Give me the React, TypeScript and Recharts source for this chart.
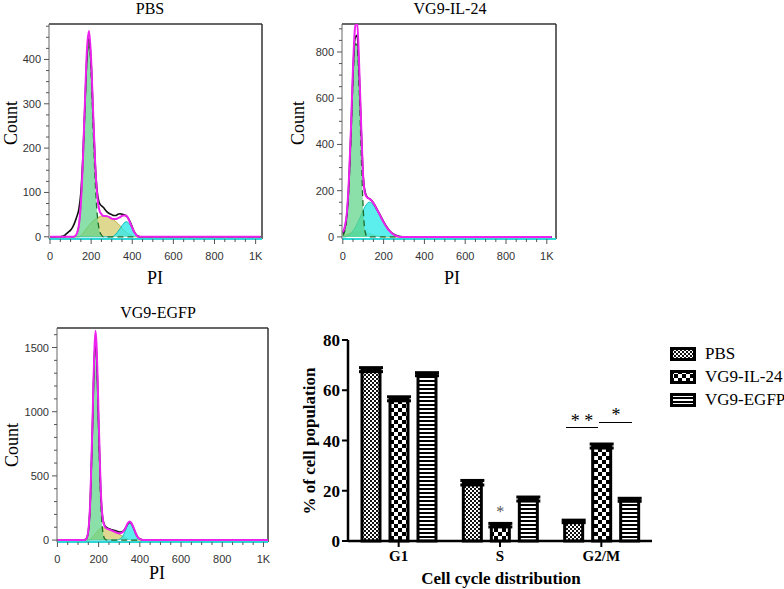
import React from 'react';
import {
  ComposedChart,
  Area,
  Line,
  XAxis,
  YAxis,
  ReferenceLine,
  BarChart,
  Bar,
  ErrorBar,
  LabelList,
} from 'recharts';

// ---- PBS histogram (PI channel) ----
const pbsX = [0, 50, 60, 70, 80, 90, 100, 110, 120, 130, 140, 150, 160, 170, 180, 190, 200, 210, 220, 230, 240, 250, 260, 270, 280, 290, 300, 310, 320, 330, 340, 350, 360, 370, 380, 390, 400, 410, 420, 430, 440, 450, 1024];
const pbsG1 = [0, 0, 0, 0, 0, 0, 0, 0, 1, 7, 25, 73, 165, 293, 406, 438, 368, 240, 122, 48, 15, 4, 0, 0, 0, 0, 0, 0, 0, 0, 0, 0, 0, 0, 0, 0, 0, 0, 0, 0, 0, 0, 0];
const pbsS = [0, 0, 0, 0, 0, 0, 0, 0, 0, 0, 0, 3, 8, 14, 20, 26, 31, 36, 40, 43, 45, 47, 47, 47, 46, 44, 41, 38, 34, 30, 25, 20, 15, 11, 7, 4, 2, 0, 0, 0, 0, 0, 0];
const pbsG2 = [0, 0, 0, 0, 0, 0, 0, 0, 0, 0, 0, 0, 0, 0, 0, 0, 0, 0, 0, 0, 0, 0, 0, 0, 0, 0, 0, 2, 6, 12, 18, 25, 31, 34, 32, 26, 18, 10, 4, 0, 0, 0, 0];
const pbsFit = [0, 0, 0, 0, 0, 0, 0, 0, 1, 7, 25, 76, 173, 307, 426, 464, 399, 276, 162, 91, 60, 51, 47, 47, 46, 44, 41, 40, 40, 42, 44, 47, 48, 48, 42, 31, 20, 10, 4, 0, 0, 0, 0];
const pbsRaw = [0, 0, 1, 3, 7, 11, 15, 22, 32, 45, 62, 100, 182, 300, 410, 447, 392, 272, 162, 100, 76, 70, 66, 60, 55, 52, 50, 48, 48, 51, 52, 51, 50, 47, 42, 33, 22, 11, 4, 1, 0, 0, 0];
const pbsYTicks = [0, 25, 50, 75, 100, 125, 150, 175, 200, 225, 250, 275, 300, 325, 350, 375, 400, 425, 450, 475];

// ---- VG9-IL-24 histogram ----
const ilX = [0, 10, 20, 30, 40, 50, 60, 70, 80, 90, 100, 110, 120, 130, 140, 150, 160, 170, 180, 190, 200, 210, 220, 230, 240, 250, 260, 270, 280, 290, 300, 1024];
const ilG1 = [6, 25, 85, 220, 430, 680, 835, 830, 640, 370, 120, 20, 0, 0, 0, 0, 0, 0, 0, 0, 0, 0, 0, 0, 0, 0, 0, 0, 0, 0, 0, 0];
const ilS = [3, 7, 10, 14, 17, 19, 21, 22, 23, 22, 21, 19, 16, 14, 11, 8, 6, 4, 3, 1, 0, 0, 0, 0, 0, 0, 0, 0, 0, 0, 0, 0];
const ilG2 = [0, 0, 2, 8, 15, 27, 40, 57, 75, 95, 115, 132, 145, 150, 147, 138, 125, 110, 95, 78, 62, 48, 35, 25, 16, 10, 5, 2, 0, 0, 0, 0];
const ilFit = [20, 45, 105, 250, 470, 735, 905, 935, 745, 480, 258, 185, 170, 165, 158, 146, 131, 114, 98, 80, 63, 48, 35, 25, 16, 10, 5, 2, 0, 0, 0, 0];
const ilRaw = [14, 38, 98, 238, 455, 715, 860, 872, 715, 470, 262, 192, 172, 166, 158, 147, 132, 116, 100, 82, 66, 51, 38, 27, 18, 12, 7, 4, 2, 1, 0, 0];
const ilYTicks = [0, 50, 100, 150, 200, 250, 300, 350, 400, 450, 500, 550, 600, 650, 700, 750, 800, 850, 900];

// ---- VG9-EGFP histogram ----
const egX = [0, 120, 130, 140, 150, 160, 170, 175, 180, 185, 190, 195, 200, 210, 220, 230, 240, 250, 260, 270, 280, 290, 300, 310, 320, 330, 340, 350, 360, 370, 380, 390, 400, 410, 420, 430, 1024];
const egG1 = [0, 0, 0, 9, 68, 313, 868, 1195, 1444, 1540, 1444, 1195, 868, 313, 68, 9, 0, 0, 0, 0, 0, 0, 0, 0, 0, 0, 0, 0, 0, 0, 0, 0, 0, 0, 0, 0, 0];
const egS = [0, 0, 0, 0, 0, 8, 22, 32, 42, 52, 62, 72, 80, 92, 96, 94, 89, 83, 77, 70, 62, 54, 45, 36, 27, 18, 10, 4, 0, 0, 0, 0, 0, 0, 0, 0, 0];
const egG2 = [0, 0, 0, 0, 0, 0, 0, 0, 0, 0, 0, 0, 0, 0, 0, 0, 0, 0, 0, 0, 0, 0, 5, 15, 39, 72, 117, 140, 129, 95, 53, 22, 8, 2, 0, 0, 0];
const egFit = [0, 0, 1, 10, 72, 330, 900, 1240, 1500, 1630, 1520, 1270, 945, 405, 165, 104, 90, 83, 77, 70, 63, 57, 52, 55, 68, 92, 128, 145, 130, 95, 53, 22, 8, 2, 0, 0, 0];
const egRaw = [0, 0, 1, 10, 70, 322, 880, 1200, 1450, 1545, 1450, 1205, 890, 390, 170, 112, 97, 88, 82, 78, 74, 68, 63, 62, 70, 92, 122, 138, 126, 92, 52, 22, 9, 3, 1, 0, 0];
const egYTicks = [0, 100, 200, 300, 400, 500, 600, 700, 800, 900, 1000, 1100, 1200, 1300, 1400, 1500, 1600];

const piTicks = [0, 50, 100, 150, 200, 250, 300, 350, 400, 450, 500, 550, 600, 650, 700, 750, 800, 850, 900, 950, 1000];

// ---- Cell cycle distribution bars ----
const phases = ['G1', 'S', 'G2/M'];
const pbsPct = [68.2, 23.2, 7.8];
const il24Pct = [56.6, 6.3, 37.8];
const egfpPct = [66.4, 16.7, 16.4];
const pbsErr = [0.8, 0.9, 0.5];
const il24Err = [0.8, 0.7, 0.8];
const egfpErr = [0.6, 0.8, 0.6];
const il24Sig = ['', '*', ''];
const groups = ['PBS', 'VG9-IL-24', 'VG9-EGFP'];

const serif = '"Liberation Serif", "Times New Roman", serif';
const sans = '"Liberation Sans", Arial, sans-serif';

const rows = (xs: number[], g1: number[], s: number[], g2: number[], fit: number[], raw: number[]) =>
  xs.map((x, i) => ({ x, g1: g1[i], s: s[i], g2: g2[i], fit: fit[i], raw: raw[i] }));

const YTick = (props: any) => {
  const { x, y, payload, major } = props;
  const isMajor = payload.value % major === 0;
  return (
    <g>
      <line x1={x - (isMajor ? 5 : 3)} x2={x} y1={y} y2={y} stroke='#555' strokeWidth={1} />
      {isMajor && (
        <text x={x - 8} y={y} dy={4} textAnchor='end' fontSize={11} fill='#333' fontFamily={sans}>
          {payload.value}
        </text>
      )}
    </g>
  );
};

const XTick = (props: any) => {
  const { x, y, payload } = props;
  const isMajor = payload.value % 200 === 0;
  return (
    <g>
      <line x1={x} x2={x} y1={y} y2={y + (isMajor ? 5 : 3)} stroke='#555' strokeWidth={1} />
      {isMajor && (
        <text x={x} y={y + 21} textAnchor='middle' fontSize={11} fill='#333' fontFamily={sans}>
          {payload.value === 1000 ? '1K' : payload.value}
        </text>
      )}
    </g>
  );
};

interface HistProps {
  data: any[];
  width: number;
  height: number;
  margin: { top: number; right: number; bottom: number; left: number };
  yWidth: number;
  xDomain: [number, number];
  yDomain: [number, number];
  yTicks: number[];
  major: number;
}

const Histogram: React.FC<HistProps> = ({ data, width, height, margin, yWidth, xDomain, yDomain, yTicks, major }) => (
  <ComposedChart width={width} height={height} data={data} margin={margin}>
    <XAxis
      type='number'
      dataKey='x'
      domain={xDomain}
      allowDataOverflow
      ticks={piTicks}
      interval={0}
      tickSize={0}
      tickMargin={0}
      tickLine={false}
      height={20}
      axisLine={{ stroke: '#2fd6d6', strokeWidth: 2 }}
      tick={(p: any) => <XTick {...p} />}
    />
    <YAxis
      type='number'
      domain={yDomain}
      allowDataOverflow
      ticks={yTicks}
      interval={0}
      tickSize={0}
      tickMargin={0}
      tickLine={false}
      width={yWidth}
      axisLine={{ stroke: '#666' }}
      tick={(p: any) => <YTick {...p} major={major} />}
    />
    <ReferenceLine y={yDomain[1]} stroke='#333' strokeWidth={1.5} ifOverflow='visible' />
    <ReferenceLine x={xDomain[1]} stroke='#333' strokeWidth={1.5} ifOverflow='visible' />
    <Area type='monotone' dataKey='s' fill='#dcd68a' fillOpacity={0.95} stroke='#b9b23c' strokeWidth={1} isAnimationActive={false} />
    <Area type='monotone' dataKey='g2' fill='#33e8e8' fillOpacity={0.8} stroke='#13bcbc' strokeWidth={1} isAnimationActive={false} />
    <Area type='monotone' dataKey='g1' fill='#5ed488' fillOpacity={0.72} stroke='#1d6b2a' strokeWidth={1.3} strokeDasharray='6 4' isAnimationActive={false} />
    <Line type='monotone' dataKey='raw' stroke='#111' strokeWidth={1.6} dot={false} isAnimationActive={false} />
    <Line type='monotone' dataKey='fit' stroke='#ee22ee' strokeWidth={2} dot={false} isAnimationActive={false} />
  </ComposedChart>
);

const Patterns: React.FC<{ prefix: string }> = ({ prefix }) => (
  <defs>
    <pattern id={`${prefix}pbs`} width={4} height={4} patternUnits='userSpaceOnUse'>
      <rect width={4} height={4} fill='#fff' />
      <rect x={0} y={0} width={2} height={2} fill='#111' />
      <rect x={2} y={2} width={2} height={2} fill='#111' />
    </pattern>
    <pattern id={`${prefix}il`} width={8} height={8} patternUnits='userSpaceOnUse'>
      <rect width={8} height={8} fill='#fff' />
      <rect x={0} y={0} width={4} height={4} fill='#000' />
      <rect x={4} y={4} width={4} height={4} fill='#000' />
    </pattern>
    <pattern id={`${prefix}eg`} width={4} height={4} patternUnits='userSpaceOnUse'>
      <rect width={4} height={4} fill='#fff' />
      <rect x={0} y={0} width={4} height={2} fill='#000' />
    </pattern>
  </defs>
);

const hText: React.CSSProperties = {
  position: 'absolute',
  fontFamily: serif,
  color: '#000',
  transform: 'translate(-50%, -50%)',
  whiteSpace: 'nowrap',
};

const Label = ({ x, y, size, text, rotate, bold }: { x: number; y: number; size: number; text: string; rotate?: boolean; bold?: boolean }) => (
  <div
    style={{
      ...hText,
      left: x,
      top: y,
      fontSize: size,
      lineHeight: 1,
      fontWeight: bold ? 'bold' : 'normal',
      transform: rotate ? 'translate(-50%, -50%) rotate(-90deg)' : hText.transform,
    }}
  >
    {text}
  </div>
);

const App: React.FC = () => {
  const pbsRows = rows(pbsX, pbsG1, pbsS, pbsG2, pbsFit, pbsRaw);
  const ilRows = rows(ilX, ilG1, ilS, ilG2, ilFit, ilRaw);
  const egRows = rows(egX, egG1, egS, egG2, egFit, egRaw);
  const barRows = phases.map((phase, i) => ({
    phase,
    pbs: pbsPct[i],
    il24: il24Pct[i],
    egfp: egfpPct[i],
    pbsErr: pbsErr[i],
    il24Err: il24Err[i],
    egfpErr: egfpErr[i],
    il24Sig: il24Sig[i],
  }));
  const patIds = ['bar-pbs', 'bar-il', 'bar-eg'];
  const lgIds = ['lg-pbs', 'lg-il', 'lg-eg'];

  return (
    <div style={{ position: 'absolute', left: 0, top: 0, width: 784, height: 589, background: '#fff', overflow: 'hidden' }}>
      {/* PBS */}
      <div style={{ position: 'absolute', left: 0, top: 0 }}>
        <Histogram
          data={pbsRows}
          width={270}
          height={290}
          margin={{ top: 24, right: 8, bottom: 31, left: 0 }}
          yWidth={49}
          xDomain={[-5, 1031]}
          yDomain={[-5, 480]}
          yTicks={pbsYTicks}
          major={100}
        />
      </div>
      <Label x={150} y={9} size={16} text='PBS' />
      <Label x={11} y={123} size={18} text='Count' rotate />
      <Label x={155} y={278} size={18} text='PI' />

      {/* VG9-IL-24 */}
      <div style={{ position: 'absolute', left: 290, top: 0 }}>
        <Histogram
          data={ilRows}
          width={270}
          height={290}
          margin={{ top: 24, right: 4, bottom: 31, left: 0 }}
          yWidth={52}
          xDomain={[-4, 1045]}
          yDomain={[-9, 921]}
          yTicks={ilYTicks}
          major={200}
        />
      </div>
      <Label x={450} y={9} size={16} text='VG9-IL-24' />
      <Label x={298} y={123} size={18} text='Count' rotate />
      <Label x={452} y={278} size={18} text='PI' />

      {/* VG9-EGFP */}
      <div style={{ position: 'absolute', left: 0, top: 300 }}>
        <Histogram
          data={egRows}
          width={280}
          height={289}
          margin={{ top: 28, right: 12, bottom: 27, left: 0 }}
          yWidth={57}
          xDomain={[-2, 1022]}
          yDomain={[-15, 1652]}
          yTicks={egYTicks}
          major={500}
        />
      </div>
      <Label x={158} y={313} size={16} text='VG9-EGFP' />
      <Label x={12} y={445} size={18} text='Count' rotate />
      <Label x={157} y={573} size={18} text='PI' />

      {/* Cell cycle distribution */}
      <div style={{ position: 'absolute', left: 290, top: 300 }}>
        <BarChart
          width={370}
          height={289}
          data={barRows}
          margin={{ top: 40, right: 8, bottom: 18, left: 0 }}
          barSize={18}
          barGap={10}
        >
          <Patterns prefix='bar-' />
          <XAxis
            dataKey='phase'
            height={30}
            axisLine={{ stroke: '#000', strokeWidth: 2.5 }}
            tickLine={{ stroke: '#000', strokeWidth: 2 }}
            tickSize={6}
            tickMargin={3}
            tick={{ fontFamily: serif, fontWeight: 'bold', fontSize: 15, fill: '#000' }}
          />
          <YAxis
            width={58}
            domain={[0, 80]}
            ticks={[0, 20, 40, 60, 80]}
            axisLine={{ stroke: '#000', strokeWidth: 2.5 }}
            tickLine={{ stroke: '#000', strokeWidth: 2 }}
            tickSize={6}
            tickMargin={2}
            tick={{ fontFamily: serif, fontWeight: 'bold', fontSize: 17, fill: '#000' }}
          />
          <Bar dataKey='pbs' name={groups[0]} fill={`url(#${patIds[0]})`} stroke='#000' strokeWidth={3} isAnimationActive={false}>
            <ErrorBar dataKey='pbsErr' width={12} stroke='#000' strokeWidth={3} />
          </Bar>
          <Bar dataKey='il24' name={groups[1]} fill={`url(#${patIds[1]})`} stroke='#000' strokeWidth={3} isAnimationActive={false}>
            <ErrorBar dataKey='il24Err' width={12} stroke='#000' strokeWidth={3} />
            <LabelList dataKey='il24Sig' position='top' offset={8} style={{ fontFamily: serif, fontSize: 16, fill: '#555' }} />
          </Bar>
          <Bar dataKey='egfp' name={groups[2]} fill={`url(#${patIds[2]})`} stroke='#000' strokeWidth={3} isAnimationActive={false}>
            <ErrorBar dataKey='egfpErr' width={12} stroke='#000' strokeWidth={3} />
          </Bar>
        </BarChart>
      </div>
      <Label x={309} y={441} size={17} text='% of cell population' rotate bold />
      <Label x={501} y={578} size={17} text='Cell cycle distribution' bold />

      {/* significance marks */}
      <div style={{ position: 'absolute', left: 566, top: 427, width: 32, height: 0, borderTop: '1.5px solid #000' }} />
      <div style={{ position: 'absolute', left: 599, top: 422, width: 33, height: 0, borderTop: '1.5px solid #000' }} />
      <Label x={582} y={421} size={18} text='* *' />
      <Label x={616} y={415} size={18} text='*' />

      {/* legend */}
      {groups.map((g, i) => (
        <div key={g} style={{ position: 'absolute', left: 670, top: 346 + i * 23, height: 16, display: 'flex', alignItems: 'center' }}>
          <svg width={26} height={14}>
            <Patterns prefix='lg-' />
            <rect x={1.5} y={1.5} width={23} height={11} fill={`url(#${lgIds[i]})`} stroke='#000' strokeWidth={3} />
          </svg>
          <span style={{ marginLeft: 9, fontFamily: serif, fontSize: 17, color: '#000', whiteSpace: 'nowrap' }}>{g}</span>
        </div>
      ))}
    </div>
  );
};

export default App;
